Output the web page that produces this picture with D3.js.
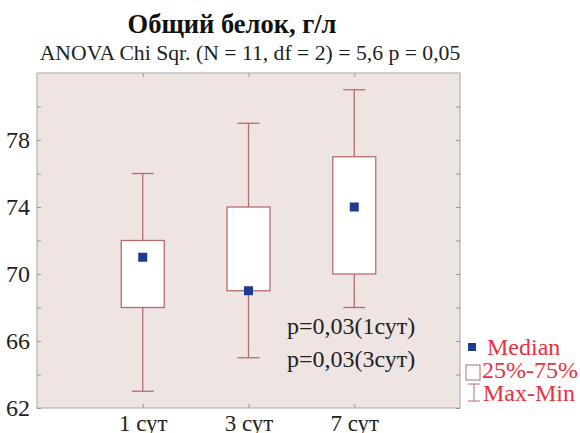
<!DOCTYPE html>
<html>
<head>
  <meta charset="utf-8">
  <script src="https://cdn.jsdelivr.net/npm/d3@7"></script>
  <style>
    body { margin: 0; background: #fff; }
    text { font-family: "Liberation Serif", "DejaVu Serif", serif; }
  </style>
</head>
<body>
  <svg width="580" height="433" id="chart"></svg>
  <script>
    const categories = ['1 сут', '3 сут', '7 сут'];
    const minVals = [63, 65, 68];
    const q1Vals = [68, 69, 70];
    const medianVals = [71, 69, 74];
    const q3Vals = [72, 74, 77];
    const maxVals = [76, 79, 81];
    const majorTicks = [62, 66, 70, 74, 78];
    const minorTicks = [64, 68, 72, 76, 80];
    const pNotes = ['p=0,03(1сут)', 'p=0,03(3сут)'];
    const legendLabels = ['Median', '25%-75%', 'Max-Min'];

    const svg = d3.select('#chart');
    const margin = { top: 73, right: 120, bottom: 25, left: 37 };
    const innerWidth = 580 - margin.left - margin.right;
    const innerHeight = 433 - margin.top - margin.bottom;
    const g = svg.append('g').attr('transform', `translate(${margin.left}, ${margin.top})`);

    const boxColor = '#b46e6e';
    const medColor = '#1f3a8f';
    const legendRed = '#e8323c';

    const data = categories.map((c, i) => ({
      cat: c, min: minVals[i], q1: q1Vals[i], med: medianVals[i], q3: q3Vals[i], max: maxVals[i]
    }));

    const xScale = d3.scalePoint().domain(categories).range([0, innerWidth]).padding(1);
    const yScale = d3.scaleLinear().domain([62, 82]).range([innerHeight, 0]);

    // plot background
    g.append('rect')
      .attr('width', innerWidth).attr('height', innerHeight)
      .attr('fill', '#eee4e2').attr('stroke', '#a8a8a8').attr('stroke-width', 1);

    // y axis (labels outside, ticks inward)
    const yAxis = d3.axisLeft(yScale).tickValues(majorTicks).tickSize(-4).tickPadding(7);
    const yg = g.append('g').call(yAxis);
    yg.select('.domain').remove();
    yg.selectAll('.tick line').attr('stroke', '#999');
    yg.selectAll('.tick text').attr('font-size', 24).attr('fill', '#222')
      .attr('font-family', '"Liberation Serif", serif');
    g.append('g').call(d3.axisLeft(yScale).tickValues(minorTicks).tickSize(-4).tickFormat(''))
      .call(a => a.select('.domain').remove())
      .selectAll('.tick line').attr('stroke', '#999');
    // right side ticks
    g.append('g').attr('transform', `translate(${innerWidth},0)`)
      .call(d3.axisRight(yScale).tickValues(majorTicks.concat(minorTicks)).tickSize(-4).tickFormat(''))
      .call(a => a.select('.domain').remove())
      .selectAll('.tick line').attr('stroke', '#999');

    // x axis
    const xg = g.append('g').attr('transform', `translate(0, ${innerHeight})`)
      .call(d3.axisBottom(xScale).tickSize(-4).tickPadding(7));
    xg.select('.domain').remove();
    xg.selectAll('.tick line').attr('stroke', '#999');
    xg.selectAll('.tick text').attr('font-size', 23).attr('fill', '#222')
      .attr('font-family', '"Liberation Serif", serif');
    g.append('g')
      .call(d3.axisTop(xScale).tickSize(-4).tickFormat(''))
      .call(a => a.select('.domain').remove())
      .selectAll('.tick line').attr('stroke', '#999');

    const boxW = 43, capW = 22, medS = 9;
    const bg = g.selectAll('.box').data(data).join('g').attr('class', 'box')
      .attr('transform', d => `translate(${xScale(d.cat)},0)`);

    bg.append('line').attr('y1', d => yScale(d.max)).attr('y2', d => yScale(d.min))
      .attr('stroke', boxColor).attr('stroke-width', 1.3);
    bg.append('line').attr('x1', -capW / 2).attr('x2', capW / 2)
      .attr('y1', d => yScale(d.max)).attr('y2', d => yScale(d.max))
      .attr('stroke', boxColor).attr('stroke-width', 1.3);
    bg.append('line').attr('x1', -capW / 2).attr('x2', capW / 2)
      .attr('y1', d => yScale(d.min)).attr('y2', d => yScale(d.min))
      .attr('stroke', boxColor).attr('stroke-width', 1.3);
    bg.append('rect').attr('x', -boxW / 2).attr('width', boxW)
      .attr('y', d => yScale(d.q3)).attr('height', d => yScale(d.q1) - yScale(d.q3))
      .attr('fill', '#fff').attr('stroke', boxColor).attr('stroke-width', 1.3);
    bg.append('rect').attr('x', -medS / 2).attr('width', medS)
      .attr('y', d => yScale(d.med) - medS / 2).attr('height', medS)
      .attr('fill', medColor);

    // p annotations
    g.selectAll('.pnote').data(pNotes).join('text')
      .attr('class', 'pnote')
      .attr('x', 250).attr('y', (d, i) => 261 + i * 33)
      .attr('font-size', 24).attr('fill', '#222')
      .text(d => d);

    // title
    svg.append('text').attr('x', 232).attr('y', 33).attr('text-anchor', 'middle')
      .attr('font-size', 26.5).attr('font-weight', 'bold').attr('fill', '#111')
      .text('Общий белок, г/л');
    svg.append('text').attr('x', 250).attr('y', 60).attr('text-anchor', 'middle')
      .attr('font-size', 21.7).attr('fill', '#222')
      .text('ANOVA Chi Sqr. (N = 11, df = 2) = 5,6 p = 0,05');

    // legend
    const lg = svg.append('g').attr('transform', 'translate(466, 0)');
    lg.append('rect').attr('x', 2).attr('y', 343).attr('width', 8).attr('height', 8).attr('fill', medColor);
    lg.append('rect').attr('x', 0).attr('y', 365).attr('width', 14).attr('height', 15)
      .attr('fill', '#fff').attr('stroke', boxColor).attr('stroke-width', 1);
    lg.append('line').attr('x1', 8).attr('x2', 8).attr('y1', 384).attr('y2', 401).attr('stroke', boxColor);
    lg.append('line').attr('x1', 2).attr('x2', 14).attr('y1', 384).attr('y2', 384).attr('stroke', boxColor);
    lg.append('line').attr('x1', 2).attr('x2', 14).attr('y1', 401).attr('y2', 401).attr('stroke', boxColor);
    lg.selectAll('.ltext').data(legendLabels).join('text')
      .attr('class', 'ltext')
      .attr('x', (d, i) => [21, 16, 17][i])
      .attr('y', (d, i) => 355 + i * 23)
      .attr('font-size', 24).attr('fill', legendRed)
      .text(d => d);
  </script>
</body>
</html>
